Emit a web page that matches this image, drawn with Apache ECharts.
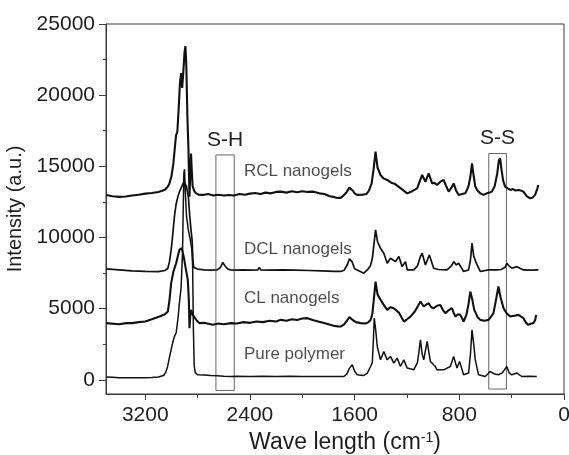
<!DOCTYPE html>
<html>
<head>
<meta charset="utf-8">
<script src="https://cdn.jsdelivr.net/npm/echarts@6/dist/echarts.min.js"></script>
<style>
  html, body { margin: 0; padding: 0; background: #fff; }
  #chart { width: 569px; height: 455px; }
</style>
</head>
<body>
<div id="chart"></div>
<script>
// Raman spectra: wavenumber (cm^-1) and intensity (a.u.) for each sample
const rclWave = [3500,3450,3400,3350,3300,3250,3200,3150,3100,3070,3050,3030,3017,3000,2985,2970,2964,2955,2945,2935,2926,2918,2910,2900,2893,2886,2878,2870,2866,2862,2856,2850,2845,2838,2825,2811,2790,2760,2720,2680,2640,2600,2560,2522,2480,2440,2400,2360,2320,2280,2240,2200,2164,2120,2080,2040,2000,1960,1913,1870,1830,1790,1760,1730,1707,1690,1660,1640,1630,1615,1600,1580,1540,1510,1490,1470,1455,1440,1425,1402,1380,1351,1320,1290,1275,1240,1198,1160,1122,1084,1059,1034,1008,990,970,945,920,900,881,860,843,825,805,780,754,730,715,703,690,678,665,640,615,590,570,551,530,510,498,488,478,465,450,430,411,390,370,348,330,310,285,259,240,221,205,196];
const rclVal  = [12990,12900,12850,12880,12950,13000,13080,13120,13200,13280,13350,13550,13750,14300,15200,16700,17200,17400,19000,20800,21550,20500,21500,23000,23450,22000,18500,16200,14500,12870,14500,15900,14800,13600,13250,13100,13000,12990,13050,12950,13000,12950,12980,12950,13050,13000,13080,13120,13050,13150,13100,13200,13220,13150,13250,13180,13250,13200,13220,13100,13050,12900,12850,12780,12780,12900,13200,13500,13570,13300,13100,12990,13000,13050,13300,13800,14800,16030,14900,14390,14150,14040,13850,13750,13690,13400,13100,13250,13450,14390,13920,14500,13800,13850,13690,13920,14040,13600,13220,13500,13800,13300,12990,13050,13100,13600,14300,15210,14300,13600,13340,13100,12990,13100,13150,13220,13600,14500,15400,15560,14800,14000,13570,13450,13340,13400,13300,13340,13300,13220,12900,12750,12800,12990,13400,13690];

const dclWave = [3500,3400,3300,3200,3100,3050,3027,3015,3002,2990,2977,2965,2950,2935,2920,2905,2895,2885,2870,2860,2850,2842,2836,2830,2824,2800,2748,2700,2650,2625,2608,2590,2570,2545,2500,2450,2400,2340,2329,2318,2250,2150,2050,1950,1850,1760,1707,1680,1655,1640,1630,1620,1600,1580,1530,1503,1480,1465,1455,1440,1425,1400,1377,1351,1326,1288,1262,1237,1211,1198,1148,1120,1100,1084,1059,1045,1029,996,960,894,860,843,823,805,767,729,715,703,690,670,640,577,540,513,480,450,437,420,399,360,330,310,250,196];
const dclVal  = [7790,7720,7650,7620,7600,7680,7840,8300,9130,10200,11460,12300,12900,13300,13600,13900,14000,13600,12800,11500,10500,9800,8500,7900,7840,7780,7720,7700,7720,7900,8240,8000,7780,7720,7700,7720,7700,7720,7900,7720,7700,7720,7700,7680,7650,7620,7610,7700,8100,8500,8540,8300,7800,7720,7490,7720,8000,8500,9300,10530,9700,9200,8890,8190,8540,8300,8660,7950,8300,7720,7720,8000,8600,8890,8070,8400,8775,7840,7750,7720,8000,8300,8070,8190,7610,7720,8400,9600,8700,8190,7610,7720,7730,7720,7750,7900,8190,8000,7840,7950,7800,7720,7700,7720];

const clWave = [3500,3400,3345,3300,3250,3200,3150,3091,3050,3027,3015,3002,2985,2964,2939,2921,2905,2893,2875,2867,2862,2856,2850,2837,2810,2786,2750,2685,2640,2600,2545,2500,2450,2400,2350,2300,2250,2200,2164,2120,2080,2040,2000,1960,1920,1880,1840,1800,1760,1730,1707,1680,1655,1640,1630,1615,1590,1554,1520,1500,1478,1465,1455,1440,1425,1402,1380,1351,1325,1301,1260,1224,1200,1173,1140,1115,1097,1072,1050,1034,1015,996,970,945,925,907,880,856,843,830,810,792,767,745,730,716,700,686,660,640,610,577,560,539,520,501,485,462,440,411,380,348,330,310,290,272,250,234,220,213];
const clVal  = [3980,3900,3980,3980,4050,4100,4250,4440,4600,4800,5600,6790,7600,8190,9130,9250,8600,7950,7020,5620,3630,4500,4910,4560,4200,3980,4000,3860,3950,3900,3980,3950,4050,4000,4100,4050,4150,4100,4210,4150,4250,4200,4300,4330,4200,4100,4000,3900,3800,3750,3740,3900,4200,4400,4440,4200,4050,3980,3950,4000,4200,4600,5500,6900,6000,5620,5300,4910,5100,5030,4700,4090,4250,4440,4800,5200,5500,5150,5300,5380,5100,5030,5200,5260,4900,4680,4900,5030,4700,4440,4600,4560,4090,4600,5300,6200,5600,4910,4400,4210,4150,4210,4400,4680,5600,6550,5800,5030,4700,4440,4500,4560,4450,4330,4000,3860,3950,3980,4200,4560];

const pureWave = [3500,3450,3400,3300,3200,3150,3100,3060,3045,3030,3010,2990,2979,2964,2950,2940,2926,2915,2910,2905,2900,2893,2885,2870,2855,2845,2838,2832,2826,2818,2800,2750,2700,2650,2600,2545,2500,2400,2300,2200,2100,2000,1900,1800,1720,1682,1660,1640,1618,1600,1580,1567,1530,1503,1478,1465,1458,1450,1440,1427,1402,1377,1351,1326,1301,1275,1250,1224,1198,1148,1120,1110,1097,1084,1072,1046,1021,983,970,920,869,843,818,798,767,729,715,703,690,678,653,602,564,530,501,470,437,420,399,360,322,259,208];
const pureVal  = [190,170,150,150,140,160,200,300,500,900,1800,2600,3000,3300,4300,5300,6500,9000,12000,14500,14800,13000,11500,10500,9800,9200,8000,3500,1000,500,350,330,300,280,250,230,240,230,240,230,240,230,230,230,230,230,400,800,1050,600,350,230,300,470,930,1200,2500,4330,3600,2340,1400,1990,1400,1640,1170,1520,930,1400,820,700,1200,1870,2810,1800,1400,2690,1290,930,700,700,930,1640,820,1290,350,470,1800,3510,2500,1400,350,230,580,400,350,500,930,500,350,470,230,250,230];

// Sample names drawn next to each trace
const sampleNames = ['RCL nanogels', 'DCL nanogels', 'CL nanogels', 'Pure polymer'];
const sampleLabelWave = [2446, 2446, 2446, 2446];
const sampleLabelVal = [14670, 9200, 5690, 1755];

// Highlighted bands (S-H and S-S stretches)
const bandNames = ['S-H', 'S-S'];
const bandFrom = [2660, 575];
const bandTo = [2520, 440];
const bandBottom = [-750, -650];
const bandTop = [15800, 15900];

// Axis ticks
const xMajorTicks = [0, 800, 1600, 2400, 3200];
const xMinorTicks = [400, 1200, 2000, 2800];
const yMajorTicks = [0, 5000, 10000, 15000, 20000, 25000];
const yMinorTicks = [2500, 7500, 12500, 17500, 22500];

const pairs = (w, v) => w.map((x, i) => [x, v[i]]);
const plain = v => String(v);
const FONT = '"Liberation Sans", Arial, sans-serif';
const AXIS_COLOR = '#3a3a3a';
const TEXT_COLOR = '#1e1e1e';

function spectrum(name, w, v, width, extra) {
  return Object.assign({
    name: name,
    type: 'line',
    data: pairs(w, v),
    showSymbol: false,
    symbol: 'none',
    smooth: false,
    lineStyle: { color: '#111', width: width },
    silent: true,
    z: 3
  }, extra || {});
}

const chart = echarts.init(document.getElementById('chart'), null, { renderer: 'canvas' });

chart.setOption({
  animation: false,
  backgroundColor: '#fff',
  textStyle: { fontFamily: FONT },
  grid: {
    left: 106, right: 5, top: 24, bottom: 61,
    containLabel: false, outerBoundsMode: 'none',
    show: true, borderColor: AXIS_COLOR, borderWidth: 1, backgroundColor: 'transparent'
  },
  xAxis: [
    {
      type: 'value', inverse: true, min: 0, max: 3500, interval: 100,
      name: 'Wave length (cm{sup|-1})',
      nameLocation: 'middle', nameGap: 33,
      nameTextStyle: {
        fontFamily: FONT, fontSize: 23, color: TEXT_COLOR, padding: [0, 0, 0, 20],
        rich: { sup: { fontFamily: FONT, fontSize: 14, color: TEXT_COLOR, verticalAlign: 'top', lineHeight: 14 } }
      },
      axisLine: { show: true, onZero: false, lineStyle: { color: AXIS_COLOR, width: 1 } },
      axisTick: { show: true, inside: false, length: 6, customValues: xMajorTicks, lineStyle: { color: AXIS_COLOR } },
      axisLabel: { show: true, customValues: xMajorTicks, formatter: plain, fontFamily: FONT, fontSize: 21, color: TEXT_COLOR, margin: 11 },
      splitLine: { show: false }
    },
    {
      type: 'value', inverse: true, min: 0, max: 3500, interval: 100, position: 'bottom',
      axisLine: { show: false, onZero: false },
      axisTick: { show: true, length: 4, customValues: xMinorTicks, lineStyle: { color: AXIS_COLOR } },
      axisLabel: { show: false },
      splitLine: { show: false }
    }
  ],
  yAxis: [
    {
      type: 'value', min: -1000, max: 25000, interval: 500,
      name: 'Intensity (a.u.)',
      nameLocation: 'middle', nameGap: 66,
      nameTextStyle: { fontFamily: FONT, fontSize: 20, color: TEXT_COLOR },
      axisLine: { show: true, onZero: false, lineStyle: { color: AXIS_COLOR, width: 1 } },
      axisTick: { show: true, inside: false, length: 7, customValues: yMajorTicks, lineStyle: { color: AXIS_COLOR } },
      axisLabel: { show: true, customValues: yMajorTicks, formatter: plain, fontFamily: FONT, fontSize: 21, color: TEXT_COLOR, margin: 11 },
      splitLine: { show: false }
    },
    {
      type: 'value', min: -1000, max: 25000, interval: 500, position: 'left',
      axisLine: { show: false, onZero: false },
      axisTick: { show: true, length: 3, customValues: yMinorTicks, lineStyle: { color: AXIS_COLOR } },
      axisLabel: { show: false },
      splitLine: { show: false }
    }
  ],
  series: [
    spectrum('Pure polymer', pureWave, pureVal, 1.5),
    spectrum('CL nanogels', clWave, clVal, 2.1),
    spectrum('DCL nanogels', dclWave, dclVal, 1.7),
    spectrum('RCL nanogels', rclWave, rclVal, 2.1, {
      markArea: {
        silent: true,
        itemStyle: { color: 'rgba(0,0,0,0)', borderColor: '#666', borderWidth: 1 },
        label: { show: true, position: 'top', distance: 4, fontFamily: FONT, fontSize: 21, color: TEXT_COLOR },
        data: bandNames.map((n, i) => [
          { name: n, coord: [bandFrom[i], bandTop[i]] },
          { coord: [bandTo[i], bandBottom[i]] }
        ])
      }
    }),
    {
      name: 'sample labels',
      type: 'scatter',
      symbolSize: 0,
      silent: true,
      data: sampleNames.map((n, i) => ({ name: n, value: [sampleLabelWave[i], sampleLabelVal[i]] })),
      label: {
        show: true, position: 'right', distance: 0, align: 'left', verticalAlign: 'middle',
        formatter: p => p.name,
        fontFamily: FONT, fontSize: 17, color: TEXT_COLOR
      },
      z: 5
    }
  ]
});
</script>
</body>
</html>
